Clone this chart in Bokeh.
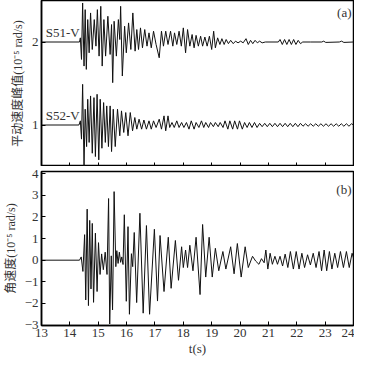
from bokeh.plotting import figure
from bokeh.layouts import column
from bokeh.models import FixedTicker
from bokeh.core.properties import value
from bokeh.embed import file_html
from bokeh.resources import INLINE

# ---------------- data ----------------
x_ticks = [13, 14, 15, 16, 17, 18, 19, 20, 21, 22, 23, 24]
top_y_ticks = [1, 2]
bot_y_ticks = [-3, -2, -1, 0, 1, 2, 3, 4]

labels_a = ["S51-V", "S52-V"]
label_a_y = [2.03, 1.03]

t51 = [13.0, 14.34, 14.37, 14.41, 14.45, 14.50, 14.54, 14.58, 14.63, 14.68, 14.73, 14.79, 14.86, 14.92,
       14.97, 15.03, 15.09, 15.14, 15.20, 15.26, 15.34, 15.42, 15.47, 15.51, 15.56, 15.64, 15.71, 15.76,
       15.79, 15.85, 15.93, 15.99, 16.07, 16.15, 16.22, 16.30, 16.36, 16.42, 16.49, 16.56, 16.64, 16.72,
       16.79, 16.87, 16.95, 17.04, 17.15, 17.23, 17.30, 17.38, 17.46, 17.55, 17.63, 17.69, 17.77, 17.85,
       17.93, 18.00, 18.08, 18.15, 18.23, 18.31, 18.38, 18.45, 18.53, 18.61, 18.68, 18.76, 18.84, 18.92,
       19.00, 19.07, 19.13, 19.21, 19.29, 19.36, 19.44, 19.51, 19.59, 19.67, 19.76, 19.84, 19.93, 20.02,
       20.11, 20.21, 20.29, 20.37, 20.45, 20.53, 20.61, 20.69, 20.78, 20.89, 21.35, 21.41, 21.49, 21.57,
       21.65, 21.73, 21.81, 21.89, 21.97, 22.05, 22.13, 22.21, 22.48, 22.88, 22.95, 23.02, 23.50, 23.58,
       23.66, 24.0]
v51 = [2.0, 2.0, 2.05, 1.79, 2.47, 1.71, 2.39, 1.67, 2.27, 1.87, 2.35, 1.91, 2.27, 1.95,
       2.39, 1.83, 2.43, 1.71, 2.27, 1.83, 2.31, 1.85, 2.21, 1.51, 2.25, 1.83, 2.27, 2.03,
       2.43, 1.59, 2.19, 1.87, 2.23, 1.91, 2.35, 1.89, 2.15, 1.91, 2.17, 1.93, 2.15, 1.95,
       2.11, 1.93, 2.13, 1.97, 1.81, 2.13, 1.95, 2.13, 1.97, 2.13, 1.95, 2.11, 1.97, 2.13,
       1.95, 2.17, 1.87, 2.15, 1.95, 2.09, 1.93, 2.08, 1.95, 2.07, 1.95, 2.06, 1.95, 2.07,
       1.91, 2.13, 1.93, 2.05, 1.97, 2.04, 1.97, 2.03, 1.98, 2.02, 1.98, 2.01, 1.99, 2.01,
       1.99, 2.04, 1.97, 2.02, 1.98, 2.02, 1.99, 2.01, 1.99, 2.0, 2.0, 2.03, 1.97, 2.03,
       1.97, 2.03, 1.97, 2.03, 1.97, 2.02, 1.98, 2.0, 2.0, 2.0, 2.01, 1.995, 2.0, 2.01,
       1.995, 2.0]

t52 = [13.0, 14.32, 14.37, 14.41, 14.45, 14.50, 14.54, 14.59, 14.63, 14.68, 14.73, 14.79, 14.85, 14.90,
       14.96, 15.02, 15.07, 15.13, 15.19, 15.25, 15.30, 15.36, 15.42, 15.47, 15.53, 15.60, 15.68, 15.76,
       15.82, 15.90, 15.97, 16.05, 16.13, 16.21, 16.29, 16.36, 16.44, 16.53, 16.61, 16.70, 16.79, 16.87,
       16.95, 17.04, 17.15, 17.23, 17.32, 17.38, 17.46, 17.52, 17.60, 17.68, 17.77, 17.85, 17.94, 18.02,
       18.11, 18.20, 18.28, 18.38, 18.45, 18.55, 18.64, 18.72, 18.79, 18.89, 18.96, 19.06, 19.13, 19.23,
       19.30, 19.40, 19.47, 19.57, 19.64, 19.74, 19.81, 19.91, 19.98, 20.08, 20.16, 20.25, 20.33, 20.42,
       20.51, 20.60, 20.69, 20.78, 20.87, 20.96, 21.05, 21.14, 21.23, 21.32, 21.41, 21.50, 21.59, 21.68,
       21.77, 21.86, 21.95, 22.04, 22.13, 22.22, 22.31, 22.40, 22.49, 22.58, 22.67, 22.76, 22.85, 22.94,
       23.03, 23.12, 23.21, 23.30, 23.39, 23.48, 23.57, 23.66, 23.75, 23.84, 23.93, 24.0]
v52 = [1.0, 1.0, 1.05, 0.83, 1.49, 0.50, 1.19, 0.74, 1.31, 0.79, 1.35, 0.66, 1.33, 0.62,
       1.37, 0.58, 1.31, 0.72, 1.27, 0.79, 1.23, 0.74, 1.23, 0.68, 1.19, 0.74, 1.19, 0.87,
       1.17, 0.91, 1.15, 0.87, 1.15, 0.93, 1.09, 0.95, 1.07, 0.95, 1.06, 0.95, 1.05, 0.95,
       1.05, 0.97, 1.07, 0.95, 1.11, 0.93, 1.11, 0.97, 1.03, 0.97, 1.05, 0.97, 1.03, 0.97,
       1.03, 0.95, 1.05, 0.95, 1.03, 0.97, 1.05, 0.97, 1.03, 0.97, 1.03, 0.98, 1.03, 0.98,
       1.03, 0.97, 1.05, 0.95, 1.05, 0.95, 1.05, 0.95, 1.05, 0.95, 1.03, 0.97, 1.03, 0.97,
       1.03, 0.97, 1.02, 0.98, 1.02, 0.98, 1.02, 0.98, 1.02, 0.98, 1.02, 0.98, 1.02, 0.98,
       1.02, 0.98, 1.02, 0.98, 1.02, 0.985, 1.015, 0.985, 1.015, 0.985, 1.015, 0.985, 1.015, 0.985,
       1.015, 0.985, 1.015, 0.985, 1.015, 0.985, 1.015, 0.985, 1.015, 0.985, 1.015, 1.0]

tb = [13.0, 14.34, 14.40, 14.46, 14.52, 14.56, 14.61, 14.655, 14.70, 14.745, 14.79, 14.835, 14.90, 14.96,
      15.01, 15.065, 15.12, 15.18, 15.245, 15.31, 15.365, 15.405, 15.46, 15.505, 15.56, 15.62, 15.655,
      15.70, 15.745, 15.79, 15.83, 15.875, 15.92, 15.99, 16.05, 16.10, 16.17, 16.215, 16.27, 16.355,
      16.47, 16.585, 16.70, 16.81, 16.98, 17.09, 17.18, 17.32, 17.47, 17.57, 17.72, 17.83, 17.94, 18.0,
      18.08, 18.15, 18.23, 18.34, 18.45, 18.59, 18.68, 18.79, 18.91, 19.02, 19.13, 19.25, 19.395, 19.50,
      19.67, 19.79, 19.905, 20.04, 20.18, 20.29, 20.44, 20.55, 20.665, 20.755, 20.85, 20.91, 20.98, 21.06,
      21.14, 21.23, 21.32, 21.41, 21.50, 21.59, 21.685, 21.775, 21.88, 21.98, 22.08, 22.18, 22.275, 22.38,
      22.48, 22.58, 22.68, 22.785, 22.875, 22.965, 23.055, 23.15, 23.24, 23.34, 23.44, 23.54, 23.645,
      23.75, 23.85, 23.95, 24.0]
vb = [0.0, 0.0, 0.15, -0.52, 1.18, -1.84, 2.36, -2.1, 1.84, -1.33, 1.70, -1.95, 1.25, -1.45,
      0.81, -0.66, 0.29, -0.44, 0.37, -0.66, 2.85, -2.95, 0.2, -2.3, 3.17, -0.3, 0.44,
      -0.15, 0.37, -0.1, 0.15, -0.2, 2.1, -1.9, 1.55, -2.5, 0.3, -0.3, 1.28, -1.96,
      2.17, -2.45, 1.6, -2.5, 1.43, -1.89, 1.14, -1.45, 1.06, -1.30, 0.91, -0.93, 0.62, -0.34,
      0.47, -0.34, 0.69, -0.49, 1.06, -1.59, 1.65, -0.78, 1.06, -0.78, 0.55, -0.49, 0.40, -0.41,
      0.62, -0.63, 0.77, -0.78, 0.62, -0.34, 0.18, -0.04, -0.19, 0.07, -0.12, 0.47, -0.41, 0.32,
      -0.19, 0.18, -0.19, 0.18, -0.27, 0.28, -0.34, 0.40, -0.41, 0.40, -0.41, 0.32, -0.34, 0.25,
      -0.22, 0.32, -0.34, 0.40, -0.49, 0.47, -0.49, 0.40, -0.41, 0.32, -0.34, 0.40, -0.34,
      0.40, -0.34, 0.32, 0.1]

SERIF = "Liberation Serif"
MIXED = "Liberation Serif, Noto Sans CJK SC"
INK = "#111111"
TXT = "#333333"


def style(p, yticks):
    p.xgrid.visible = False
    p.ygrid.visible = False
    p.outline_line_color = "black"
    p.outline_line_width = 1.5
    for ax in (p.xaxis[0], p.yaxis[0]):
        ax.axis_line_color = "black"
        ax.axis_line_width = 1.5
        ax.major_tick_in = 4
        ax.major_tick_out = 0
        ax.minor_tick_line_color = None
        ax.major_tick_line_color = "black"
        ax.major_label_text_font = SERIF
        ax.major_label_text_font_size = "13px"
        ax.major_label_text_color = TXT
        ax.axis_label_text_font = MIXED
        ax.axis_label_text_font_size = "12px"
        ax.axis_label_text_font_style = "normal"
        ax.axis_label_text_color = TXT
    p.xaxis.ticker = FixedTicker(ticks=x_ticks)
    p.yaxis.ticker = FixedTicker(ticks=yticks)
    p.yaxis.major_label_standoff = 3
    p.yaxis.axis_label_standoff = 4


# ---------------- top panel ----------------
p1 = figure(width=354, height=166, x_range=(13, 24), y_range=(0.5, 2.5),
            output_backend="svg", toolbar_location=None,
            min_border_left=30, min_border_right=1, min_border_top=0, min_border_bottom=0)
style(p1, top_y_ticks)
p1.xaxis.major_label_overrides = {t: "" for t in x_ticks}
p1.xaxis.major_label_standoff = 0
p1.yaxis.axis_label = "平动速度峰值(10⁻⁵ rad/s)"
p1.line(t51, v51, line_color=INK, line_width=1)
p1.line(t52, v52, line_color=INK, line_width=1)
p1.text(x=[13.15, 13.15], y=label_a_y, text=labels_a, text_font=value(SERIF),
        text_font_size="13px", text_color=TXT, text_baseline="bottom")
p1.text(x=[23.93], y=[2.44], text=["(a)"], text_font=value(SERIF), text_font_size="13px",
        text_color=TXT, text_align="right", text_baseline="top")

# ---------------- bottom panel ----------------
p2 = figure(width=354, height=192, x_range=(13, 24), y_range=(-3.02, 4.1),
            output_backend="svg", toolbar_location=None,
            min_border_left=30, min_border_right=1, min_border_top=5, min_border_bottom=0)
style(p2, bot_y_ticks)
p2.xaxis.axis_label = "t(s)"
p2.xaxis.major_label_standoff = 3
p2.xaxis.axis_label_standoff = 1
p2.xaxis.axis_label_text_font = SERIF
p2.xaxis.axis_label_text_font_size = "13px"
p2.yaxis.axis_label = "角速度(10⁻⁵ rad/s)"
p2.line(tb, vb, line_color=INK, line_width=1)
p2.text(x=[23.93], y=[3.6], text=["(b)"], text_font=value(SERIF), text_font_size="13px",
        text_color=TXT, text_align="right", text_baseline="top")

layout = column(p1, p2, spacing=0)
open("out.html", "w").write(file_html(layout, INLINE))
